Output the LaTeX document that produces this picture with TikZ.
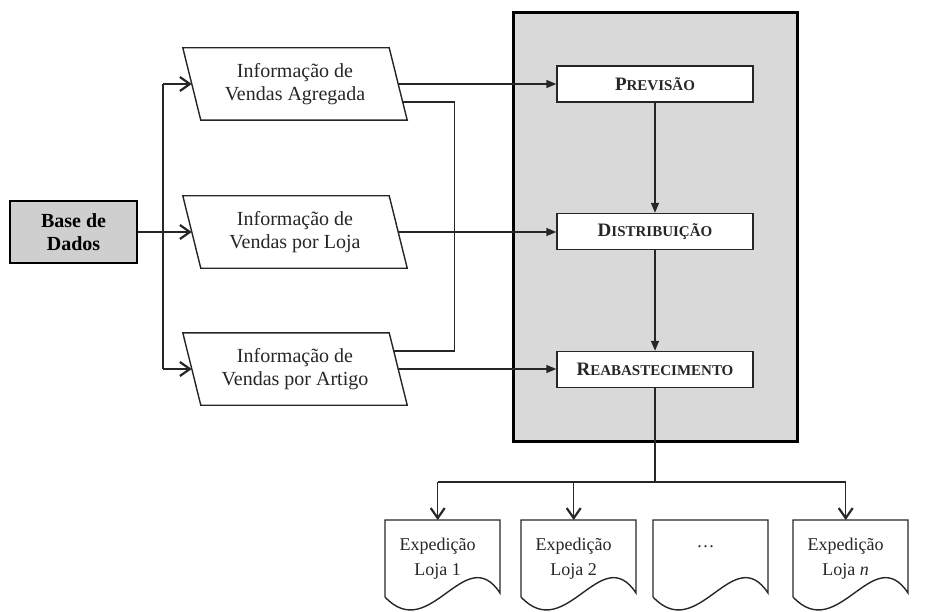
\documentclass[tikz,border=0pt]{standalone}
\usepackage{fontspec}
\setmainfont{Liberation Serif}
\usetikzlibrary{arrows.meta,calc}

\definecolor{corefill}{HTML}{D9D9D9}
\definecolor{dbfill}{HTML}{CFCFCF}
\definecolor{ink}{HTML}{262626}

% bold fake small caps: first letter full size, rest reduced
\newcommand\capsc[2]{#1{\fontsize{15}{18}\selectfont #2}}

\begin{document}
\begin{tikzpicture}[x=1pt,y=-1pt,
  every node/.style={font=\fontsize{20}{23}\selectfont, text=ink, align=center, inner sep=0pt},
  infobox/.style={minimum width=206, minimum height=72},
  infoline/.style={draw=ink, line width=1.4pt, line join=miter},
  stage/.style={draw=ink, fill=white, line width=1.4pt, minimum width=196, minimum height=36,
    font=\bfseries\fontsize{19}{22}\selectfont},
  docbox/.style={minimum width=105, minimum height=77, anchor=north west,
    font=\fontsize{18}{25}\selectfont},
  docline/.style={draw=ink, line width=1.4pt},
  conn/.style={draw=ink, line width=1.4pt},
  barb/.style={conn, -{Straight Barb[length=10pt, width=14pt, line width=2.2pt]}},
  tri/.style={conn, -{Triangle[length=10pt, width=8pt]}},
]
\useasboundingbox (0,0) rectangle (952,612);

% planning block
\node[draw=black, line width=3pt, fill=corefill, minimum width=284, minimum height=428] (core) at (655,227) {};
\node[stage] (prev) at (655,84)    {\capsc{P}{REVISÃO}};
\node[stage] (dist) at (655,231.5) {\capsc{D}{ISTRIBUIÇÃO}};
\node[stage] (reab) at (655,369.5) {\capsc{R}{EABASTECIMENTO}};
\draw[tri] (prev.south) -- (dist.north);
\draw[tri] (dist.south) -- (reab.north);

% data source
\node[draw=black, line width=2.6pt, fill=dbfill, minimum width=127, minimum height=62,
  font=\bfseries\fontsize{20}{23}\selectfont, text=black] (db) at (73.5,232) {Base de\\Dados};

% sales information (parallelograms)
\node[infobox] (agg)  at (295,84)  {Informação de\\Vendas Agregada};
\node[infobox] (loja) at (295,232) {Informação de\\Vendas por Loja};
\node[infobox] (art)  at (295,369) {Informação de\\Vendas por Artigo};
\foreach \n in {agg,loja,art}
  \draw[infoline] ([xshift=-9pt]\n.north west) -- ([xshift=-9pt]\n.north east)
    -- ([xshift=9pt]\n.south east) -- ([xshift=9pt]\n.south west) -- cycle;

% feed from the database
\coordinate (trunk) at (163,0);
\draw[conn] (trunk |- agg.west) -- (trunk |- art.west);
\draw[barb] (db.east) -- (loja.west);
\draw[barb] (trunk |- agg.west) -- (agg.west);
\draw[barb] (trunk |- art.west) -- (art.west);

% information into the planning stages
\draw[tri] (agg.east) -- (prev.west);
\draw[tri] (loja.east) -- (loja.east -| dist.west);
\draw[tri] (art.east) -- (art.east -| reab.west);
\draw[conn] ($(agg.east)+(4.5,18)$) -- ++(51.5,0) |- ($(art.east)+(-4.5,-18)$);

% shipments per store
\coordinate (bus) at (655,482);
\node[docbox] (d1) at (385,520) {Expedição\\Loja 1};
\node[docbox] (d2) at (521,520) {Expedição\\Loja 2};
\node[docbox] (d3) at (653,520) {\ldots\\\mbox{}};
\node[docbox] (d4) at (793,520) {Expedição\\Loja \textit{n}};
\foreach \d in {d1,d2,d3,d4}
  \draw[docline] ($(\d.north west)+(0,77)$) -- (\d.north west) -- ($(\d.north west)+(115,0)$)
    -- ($(\d.north west)+(115,73)$)
    .. controls ($(\d.north west)+(80,20)$) and ($(\d.north west)+(45,125)$) .. ($(\d.north west)+(0,77)$);

\draw[conn] (reab.south) -- (reab.south |- core.south);
\draw[conn, line width=2.6pt] (reab.south |- core.south) -- (bus);
\draw[conn] (d1.north |- bus) -- (d4.north |- bus);
\draw[barb] (d1.north |- bus) -- (d1.north);
\draw[barb] (d2.north |- bus) -- (d2.north);
\draw[barb] (d4.north |- bus) -- (d4.north);
\end{tikzpicture}
\end{document}
